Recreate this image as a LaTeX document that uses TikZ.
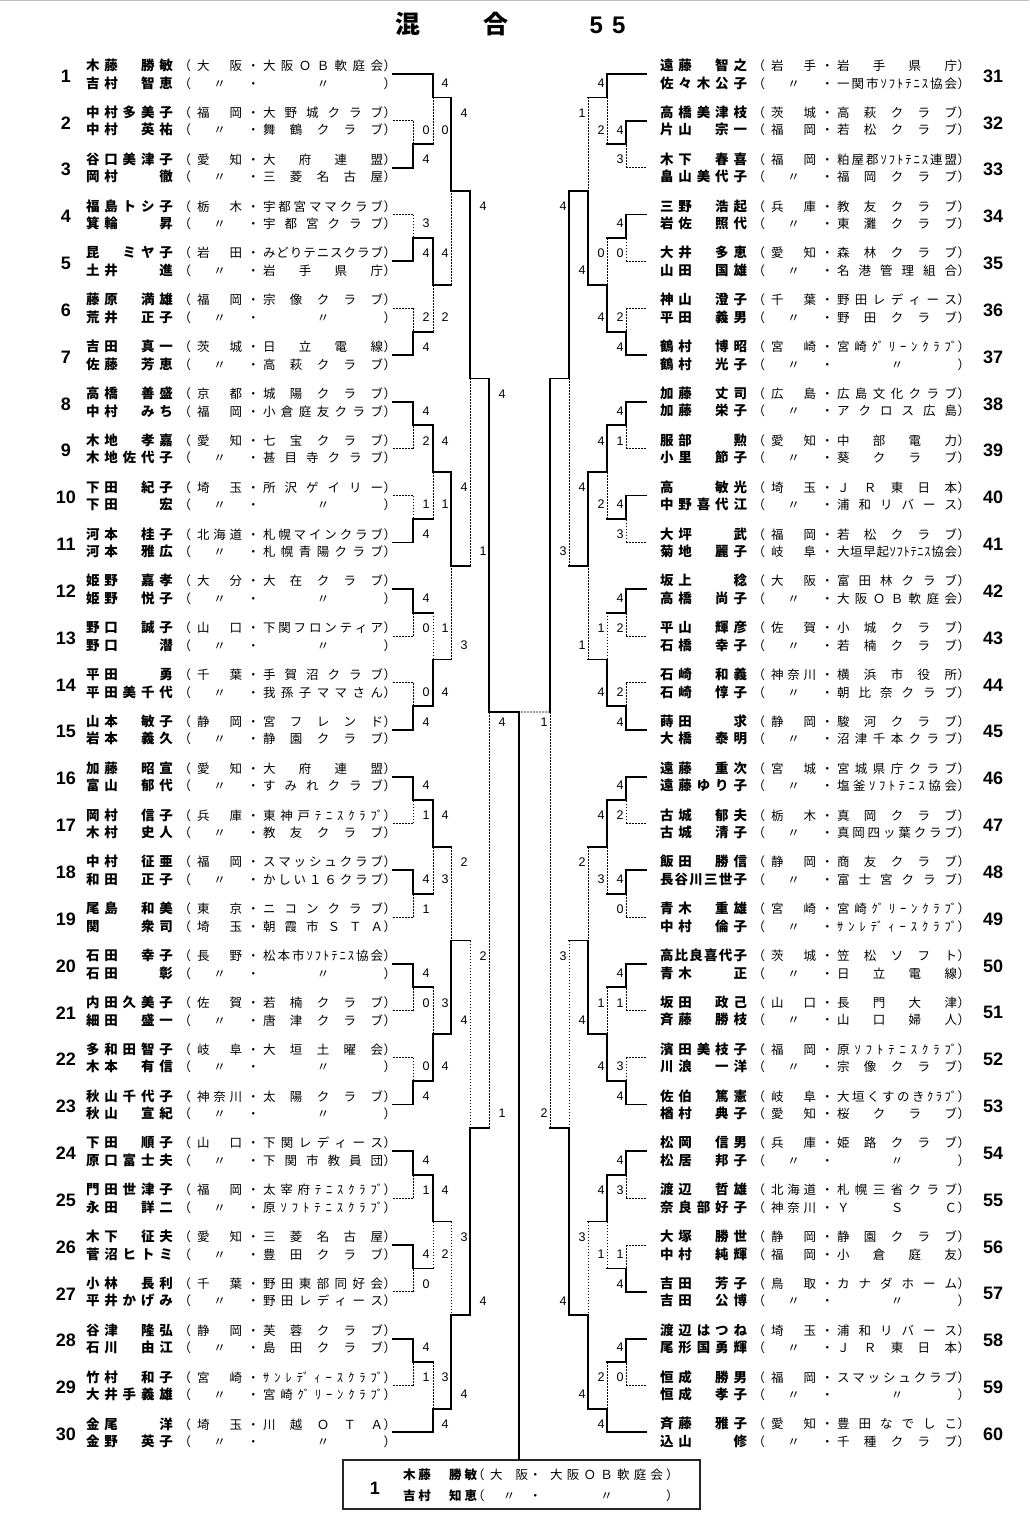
\documentclass[tikz,border=0pt]{standalone}
\usepackage{fontspec}
\usepackage{graphicx}
\setmainfont{Liberation Sans}
\newfontfamily\jp{Noto Sans CJK JP}
\newcommand{\toprow}{74}
\newcommand{\rowgap}{46.84}
\newcommand{\offa}{(-8)}
\newcommand{\offb}{9}
\newcommand{\namefont}{\bfseries\fontsize{13.5}{13.5}\selectfont}
\newsavebox{\fldbox}
\def\spreadtok#1#2\endspread{#1\ifx\relax#2\else\hfil\spreadtok#2\endspread\fi}
\def\spreadstart#1#2\endspread{\ifx\relax#2\hfil#1\hfil\else#1\hfil\spreadtok#2\endspread\fi}
\newcommand{\fld}[2]{%
  \sbox{\fldbox}{#2}%
  \ifdim\wd\fldbox>#1\relax
    \resizebox{#1}{\height}{\usebox{\fldbox}}%
  \else
    \hbox to #1{\spreadstart#2\relax\endspread}%
  \fi}
\newcommand{\prow}[3]{\rlap{{\namefont\fld{87pt}{#1}}}\kern92.5pt\rlap{（}\kern18.5pt\rlap{\fld{45pt}{#2}}\kern50pt\rlap{・}\kern16pt\rlap{\fld{120pt}{#3}}\kern120.5pt）}
\newcommand{\crow}[3]{\rlap{{\bfseries\fontsize{12.5}{12.5}\selectfont\fld{74pt}{#1}}}\kern69pt\rlap{（}\kern18pt\rlap{\fld{38pt}{#2}}\kern39pt\rlap{・}\kern21pt\rlap{\fld{113pt}{#3}}\kern116pt）}
\tikzset{
  win/.style={line width=1.8pt, line cap=rect},
  lose/.style={line width=0.9pt, dash pattern=on 1.8pt off 1.2pt},
  entry/.style={anchor=west, inner sep=0pt, outer sep=0pt, font=\jp\fontsize{12.5}{12.5}\selectfont},
  seed/.style={inner sep=0pt, font=\bfseries\fontsize{18}{18}\selectfont},
  score/.style={inner sep=0pt, font=\fontsize{12.5}{12.5}\selectfont},
  ttlj/.style={inner sep=0pt, font=\jp\bfseries\fontsize{25}{25}\selectfont},
  ttld/.style={inner sep=0pt, font=\bfseries\fontsize{24}{24}\selectfont}
}
\newcommand{\lpl}[7]{%
  \pgfmathsetmacro{\pyy}{\toprow+\rowgap*(#1-1)}
  \node[seed] (n#1) at (66,{\pyy+2}) {#1};
  \node[entry] (t#1a) at (86,{\pyy-8.5}) {\prow{#2}{#3}{#4}};
  \node[entry] (t#1b) at (86,{\pyy+9}) {\prow{#5}{#6}{#7}};
  \coordinate (L#1) at (393,\pyy);
}
\newcommand{\rpl}[7]{%
  \pgfmathsetmacro{\pyy}{\toprow+\rowgap*(#1-31)}
  \node[seed] (n#1) at (993,{\pyy+2}) {#1};
  \node[entry] (t#1a) at (660,{\pyy-8.5}) {\prow{#2}{#3}{#4}};
  \node[entry] (t#1b) at (660,{\pyy+9}) {\prow{#5}{#6}{#7}};
  \coordinate (R#1) at (646,\pyy);
}
\newcommand{\bout}[9]{%
  \coordinate (#1) at (#2,{\toprow+\rowgap*(#3-1)});
  \draw[#5] (#4) -- (#4 -| #1);
  \draw[#6] (#4 -| #1) -- (#1);
  \draw[#8] (#7) -- (#7 -| #1);
  \draw[#9] (#7 -| #1) -- (#1);
}
\newcommand{\gs}[4]{\node[score] (g#1x#2#3) at (#1,{\toprow+\rowgap*mod(#2-1,30)+\csname off#3\endcsname}) {#4};}

\begin{document}
\begin{tikzpicture}[x=1pt,y=-1pt]
        \fill[white] (0,0) rectangle (1029,1537);
        \useasboundingbox (0,0) rectangle (1029,1537);
        \draw[black!25, line width=1pt] (0,0.5) -- (1029,0.5);

        \node[ttlj] (ti1) at (408,24) {混};
        \node[ttlj] (ti2) at (496,24) {合};
        \node[ttld] (ti3) at (607.5,25) {5\kern9pt5};

        \lpl{1}{木藤　勝敏}{大阪}{大阪ＯＢ軟庭会}{吉村　智恵}{〃}{〃}
        \lpl{2}{中村多美子}{福岡}{大野城クラブ}{中村　英祐}{〃}{舞鶴クラブ}
        \lpl{3}{谷口美津子}{愛知}{大府連盟}{岡村　　徹}{〃}{三菱名古屋}
        \lpl{4}{福島トシ子}{栃木}{宇都宮ママクラブ}{箕輪　　昇}{〃}{宇都宮クラブ}
        \lpl{5}{昆　ミヤ子}{岩田}{みどりテニスクラブ}{土井　　進}{〃}{岩手県庁}
        \lpl{6}{藤原　満雄}{福岡}{宗像クラブ}{荒井　正子}{〃}{〃}
        \lpl{7}{吉田　真一}{茨城}{日立電線}{佐藤　芳恵}{〃}{高萩クラブ}
        \lpl{8}{高橋　善盛}{京都}{城陽クラブ}{中村　みち}{福岡}{小倉庭友クラブ}
        \lpl{9}{木地　孝嘉}{愛知}{七宝クラブ}{木地佐代子}{〃}{甚目寺クラブ}
        \lpl{10}{下田　紀子}{埼玉}{所沢ゲイリー}{下田　　宏}{〃}{〃}
        \lpl{11}{河本　桂子}{北海道}{札幌マインクラブ}{河本　雅広}{〃}{札幌青陽クラブ}
        \lpl{12}{姫野　嘉孝}{大分}{大在クラブ}{姫野　悦子}{〃}{〃}
        \lpl{13}{野口　誠子}{山口}{下関フロンティア}{野口　　潜}{〃}{〃}
        \lpl{14}{平田　　勇}{千葉}{手賀沼クラブ}{平田美千代}{〃}{我孫子ママさん}
        \lpl{15}{山本　敏子}{静岡}{宮フレンド}{岩本　義久}{〃}{静園クラブ}
        \lpl{16}{加藤　昭宣}{愛知}{大府連盟}{富山　郁代}{〃}{すみれクラブ}
        \lpl{17}{岡村　信子}{兵庫}{東神戸ﾃﾆｽｸﾗ{ﾌﾞ}}{木村　史人}{〃}{教友クラブ}
        \lpl{18}{中村　征亜}{福岡}{スマッシュクラブ}{和田　正子}{〃}{かしい１６クラブ}
        \lpl{19}{尾島　和美}{東京}{ニコンクラブ}{関　　衆司}{埼玉}{朝霞市ＳＴＡ}
        \lpl{20}{石田　幸子}{長野}{松本市ｿﾌﾄﾃﾆｽ協会}{石田　　彰}{〃}{〃}
        \lpl{21}{内田久美子}{佐賀}{若楠クラブ}{細田　盛一}{〃}{唐津クラブ}
        \lpl{22}{多和田智子}{岐阜}{大垣土曜会}{木本　有信}{〃}{〃}
        \lpl{23}{秋山千代子}{神奈川}{太陽クラブ}{秋山　宣紀}{〃}{〃}
        \lpl{24}{下田　順子}{山口}{下関レディース}{原口富士夫}{〃}{下関市教員団}
        \lpl{25}{門田世津子}{福岡}{太宰府ﾃﾆｽｸﾗ{ﾌﾞ}}{永田　詳二}{〃}{原ｿﾌﾄﾃﾆｽｸﾗ{ﾌﾞ}}
        \lpl{26}{木下　征夫}{愛知}{三菱名古屋}{菅沼ヒトミ}{〃}{豊田クラブ}
        \lpl{27}{小林　長利}{千葉}{野田東部同好会}{平井かげみ}{〃}{野田レディース}
        \lpl{28}{谷津　隆弘}{静岡}{芙蓉クラブ}{石川　由江}{〃}{島田クラブ}
        \lpl{29}{竹村　和子}{宮崎}{ｻﾝﾚ{ﾃﾞ}ｨｰｽｸﾗ{ﾌﾞ}}{大井手義雄}{〃}{宮崎{ｸﾞ}ﾘｰﾝｸﾗ{ﾌﾞ}}
        \lpl{30}{金尾　　洋}{埼玉}{川越ＯＴＡ}{金野　英子}{〃}{〃}

        \rpl{31}{遠藤　智之}{岩手}{岩手県庁}{佐々木公子}{〃}{一関市ｿﾌﾄﾃﾆｽ協会}
        \rpl{32}{高橋美津枝}{茨城}{高萩クラブ}{片山　宗一}{福岡}{若松クラブ}
        \rpl{33}{木下　春喜}{福岡}{粕屋郡ｿﾌﾄﾃﾆｽ連盟}{畠山美代子}{〃}{福岡クラブ}
        \rpl{34}{三野　浩起}{兵庫}{教友クラブ}{岩佐　照代}{〃}{東灘クラブ}
        \rpl{35}{大井　多恵}{愛知}{森林クラブ}{山田　国雄}{〃}{名港管理組合}
        \rpl{36}{神山　澄子}{千葉}{野田レディース}{平田　義男}{〃}{野田クラブ}
        \rpl{37}{鶴村　博昭}{宮崎}{宮崎{ｸﾞ}ﾘｰﾝｸﾗ{ﾌﾞ}}{鶴村　光子}{〃}{〃}
        \rpl{38}{加藤　丈司}{広島}{広島文化クラブ}{加藤　栄子}{〃}{アクロス広島}
        \rpl{39}{服部　　勲}{愛知}{中部電力}{小里　節子}{〃}{葵クラブ}
        \rpl{40}{高　　敏光}{埼玉}{ＪＲ東日本}{中野喜代江}{〃}{浦和リバース}
        \rpl{41}{大坪　　武}{福岡}{若松クラブ}{菊地　麗子}{岐阜}{大垣早起ｿﾌﾄﾃﾆｽ協会}
        \rpl{42}{坂上　　稔}{大阪}{富田林クラブ}{高橋　尚子}{〃}{大阪ＯＢ軟庭会}
        \rpl{43}{平山　輝彦}{佐賀}{小城クラブ}{石橋　幸子}{〃}{若楠クラブ}
        \rpl{44}{石崎　和義}{神奈川}{横浜市役所}{石崎　惇子}{〃}{朝比奈クラブ}
        \rpl{45}{蒔田　　求}{静岡}{駿河クラブ}{大橋　泰明}{〃}{沼津千本クラブ}
        \rpl{46}{遠藤　重次}{宮城}{宮城県庁クラブ}{遠藤ゆり子}{〃}{塩釜ｿﾌﾄﾃﾆｽ協会}
        \rpl{47}{古城　郁夫}{栃木}{真岡クラブ}{古城　清子}{〃}{真岡四ッ葉クラブ}
        \rpl{48}{飯田　勝信}{静岡}{商友クラブ}{長谷川三世子}{〃}{富士宮クラブ}
        \rpl{49}{青木　重雄}{宮崎}{宮崎{ｸﾞ}ﾘｰﾝｸﾗ{ﾌﾞ}}{中村　倫子}{〃}{ｻﾝﾚ{ﾃﾞ}ｨｰｽｸﾗ{ﾌﾞ}}
        \rpl{50}{高比良喜代子}{茨城}{笠松ソフト}{青木　　正}{〃}{日立電線}
        \rpl{51}{坂田　政己}{山口}{長門大津}{斉藤　勝枝}{〃}{山口婦人}
        \rpl{52}{濱田美枝子}{福岡}{原ｿﾌﾄﾃﾆｽｸﾗ{ﾌﾞ}}{川浪　一洋}{〃}{宗像クラブ}
        \rpl{53}{佐伯　篤憲}{岐阜}{大垣くすのきｸﾗ{ﾌﾞ}}{楢村　典子}{愛知}{桜クラブ}
        \rpl{54}{松岡　信男}{兵庫}{姫路クラブ}{松居　邦子}{〃}{〃}
        \rpl{55}{渡辺　哲雄}{北海道}{札幌三省クラブ}{奈良部好子}{神奈川}{ＹＳＣ}
        \rpl{56}{大塚　勝世}{静岡}{静園クラブ}{中村　純輝}{福岡}{小倉庭友}
        \rpl{57}{吉田　芳子}{鳥取}{カナダホーム}{吉田　公博}{〃}{〃}
        \rpl{58}{渡辺はつね}{埼玉}{浦和リバース}{尾形国勇輝}{〃}{ＪＲ東日本}
        \rpl{59}{恒成　勝男}{福岡}{スマッシュクラブ}{恒成　孝子}{〃}{〃}
        \rpl{60}{斉藤　雅子}{愛知}{豊田なでしこ}{込山　　修}{〃}{千種クラブ}

        \bout{a2}{413}{2.5}{L2}{lose}{lose}{L3}{win}{win}
        \bout{a4}{413}{4.5}{L4}{lose}{lose}{L5}{win}{win}
        \bout{a6}{413}{6.5}{L6}{lose}{lose}{L7}{win}{win}
        \bout{a8}{413}{8.5}{L8}{win}{win}{L9}{lose}{lose}
        \bout{a10}{413}{10.5}{L10}{lose}{lose}{L11}{win}{win}
        \bout{a12}{413}{12.5}{L12}{win}{win}{L13}{lose}{lose}
        \bout{a14}{413}{14.5}{L14}{lose}{lose}{L15}{win}{win}
        \bout{a16}{413}{16.5}{L16}{win}{win}{L17}{lose}{lose}
        \bout{a18}{413}{18.5}{L18}{win}{win}{L19}{lose}{lose}
        \bout{a20}{413}{20.5}{L20}{win}{win}{L21}{lose}{lose}
        \bout{a22}{413}{22.5}{L22}{lose}{lose}{L23}{win}{win}
        \bout{a24}{413}{24.5}{L24}{win}{win}{L25}{lose}{lose}
        \bout{a26}{413}{26.5}{L26}{win}{win}{L27}{lose}{lose}
        \bout{a28}{413}{28.5}{L28}{win}{win}{L29}{lose}{lose}

        \bout{b1}{433}{1.5}{L1}{win}{win}{a2}{win}{lose}
        \bout{b4}{433}{5.5}{a4}{win}{win}{a6}{win}{lose}
        \bout{b8}{433}{9.5}{a8}{win}{win}{a10}{win}{lose}
        \bout{b12}{433}{13.5}{a12}{win}{lose}{a14}{win}{win}
        \bout{b16}{433}{17.5}{a16}{win}{win}{a18}{win}{lose}
        \bout{b20}{433}{21.5}{a20}{win}{lose}{a22}{win}{win}
        \bout{b24}{433}{25.5}{a24}{win}{win}{a26}{win}{lose}
        \bout{b28}{433}{29.5}{a28}{win}{lose}{L30}{win}{win}

        \bout{c1}{451}{3.5}{b1}{win}{win}{b4}{win}{lose}
        \bout{c8}{451}{11.5}{b8}{win}{win}{b12}{win}{lose}
        \bout{c16}{451}{19.5}{b16}{win}{lose}{b20}{win}{win}
        \bout{c24}{451}{27.5}{b24}{win}{lose}{b28}{win}{win}

        \bout{d1}{470}{7.5}{c1}{win}{win}{c8}{win}{lose}
        \bout{d16}{470}{23.5}{c16}{win}{lose}{c24}{win}{win}

        \bout{eL}{489}{14.621}{d1}{win}{win}{d16}{win}{lose}

        \bout{p32}{626}{2.5}{R32}{win}{win}{R33}{lose}{lose}
        \bout{p34}{626}{4.5}{R34}{win}{win}{R35}{lose}{lose}
        \bout{p36}{626}{6.5}{R36}{lose}{lose}{R37}{win}{win}
        \bout{p38}{626}{8.5}{R38}{win}{win}{R39}{lose}{lose}
        \bout{p40}{626}{10.5}{R40}{win}{win}{R41}{lose}{lose}
        \bout{p42}{626}{12.5}{R42}{win}{win}{R43}{lose}{lose}
        \bout{p44}{626}{14.5}{R44}{lose}{lose}{R45}{win}{win}
        \bout{p46}{626}{16.5}{R46}{win}{win}{R47}{lose}{lose}
        \bout{p48}{626}{18.5}{R48}{win}{win}{R49}{lose}{lose}
        \bout{p50}{626}{20.5}{R50}{win}{win}{R51}{lose}{lose}
        \bout{p52}{626}{22.5}{R52}{lose}{lose}{R53}{win}{win}
        \bout{p54}{626}{24.5}{R54}{win}{win}{R55}{lose}{lose}
        \bout{p56}{626}{26.5}{R56}{lose}{lose}{R57}{win}{win}
        \bout{p58}{626}{28.5}{R58}{win}{win}{R59}{lose}{lose}

        \bout{q31}{607}{1.5}{R31}{win}{win}{p32}{win}{lose}
        \bout{q34}{607}{5.5}{p34}{win}{lose}{p36}{win}{win}
        \bout{q38}{607}{9.5}{p38}{win}{win}{p40}{win}{lose}
        \bout{q42}{607}{13.5}{p42}{win}{lose}{p44}{win}{win}
        \bout{q46}{607}{17.5}{p46}{win}{win}{p48}{win}{lose}
        \bout{q50}{607}{21.5}{p50}{win}{lose}{p52}{win}{win}
        \bout{q54}{607}{25.5}{p54}{win}{win}{p56}{win}{lose}
        \bout{q58}{607}{29.5}{p58}{win}{lose}{R60}{win}{win}

        \bout{r31}{588}{3.5}{q31}{win}{lose}{q34}{win}{win}
        \bout{r38}{588}{11.5}{q38}{win}{win}{q42}{win}{lose}
        \bout{r46}{588}{19.5}{q46}{win}{lose}{q50}{win}{win}
        \bout{r54}{588}{27.5}{q54}{win}{lose}{q58}{win}{win}

        \bout{s31}{569}{7.5}{r31}{win}{win}{r38}{win}{lose}
        \bout{s46}{569}{23.5}{r46}{win}{lose}{r54}{win}{win}

        \bout{eR}{550}{14.621}{s31}{win}{win}{s46}{win}{lose}

        \node[draw=black!85, line width=1.2pt, minimum width=357pt, minimum height=49pt, inner sep=0pt] (champ) at (521.4,1484.5) {};
        \node[seed] (cn) at (375,1488) {1};
        \node[entry] (ca) at (403,1475) {\crow{木藤　勝敏}{大阪}{大阪ＯＢ軟庭会}};
        \node[entry] (cb) at (403,1496) {\crow{吉村　知恵}{〃}{〃}};

        \coordinate (fin) at (519,712);
        \draw[win] (eL) -- (fin);
        \draw[lose] (eR) -- (fin);
        \draw[win] (fin) -- (fin |- champ.north);

        \gs{426}{2}{b}{0} \gs{426}{3}{a}{4} \gs{426}{4}{b}{3} \gs{426}{5}{a}{4}
        \gs{426}{6}{b}{2} \gs{426}{7}{a}{4} \gs{426}{8}{b}{4} \gs{426}{9}{a}{2}
        \gs{426}{10}{b}{1} \gs{426}{11}{a}{4} \gs{426}{12}{b}{4} \gs{426}{13}{a}{0}
        \gs{426}{14}{b}{0} \gs{426}{15}{a}{4} \gs{426}{16}{b}{4} \gs{426}{17}{a}{1}
        \gs{426}{18}{b}{4} \gs{426}{19}{a}{1} \gs{426}{20}{b}{4} \gs{426}{21}{a}{0}
        \gs{426}{22}{b}{0} \gs{426}{23}{a}{4} \gs{426}{24}{b}{4} \gs{426}{25}{a}{1}
        \gs{426}{26}{b}{4} \gs{426}{27}{a}{0} \gs{426}{28}{b}{4} \gs{426}{29}{a}{1}

        \gs{445}{1}{b}{4} \gs{445}{2}{b}{0} \gs{445}{5}{a}{4} \gs{445}{6}{b}{2}
        \gs{445}{9}{a}{4} \gs{445}{10}{b}{1} \gs{445}{13}{a}{1} \gs{445}{14}{b}{4}
        \gs{445}{17}{a}{4} \gs{445}{18}{b}{3} \gs{445}{21}{a}{3} \gs{445}{22}{b}{4}
        \gs{445}{25}{a}{4} \gs{445}{26}{b}{2} \gs{445}{29}{a}{3} \gs{445}{30}{a}{4}

        \gs{464}{2}{a}{4} \gs{464}{10}{a}{4} \gs{464}{13}{b}{3} \gs{464}{18}{a}{2}
        \gs{464}{21}{b}{4} \gs{464}{26}{a}{3} \gs{464}{29}{b}{4}
        \gs{483}{4}{a}{4} \gs{483}{11}{b}{1} \gs{483}{20}{a}{2} \gs{483}{27}{b}{4}
        \gs{502}{8}{a}{4} \gs{502}{15}{a}{4} \gs{502}{23}{b}{1}

        \gs{620}{32}{b}{4} \gs{620}{33}{a}{3} \gs{620}{34}{b}{4} \gs{620}{35}{a}{0}
        \gs{620}{36}{b}{2} \gs{620}{37}{a}{4} \gs{620}{38}{b}{4} \gs{620}{39}{a}{1}
        \gs{620}{40}{b}{4} \gs{620}{41}{a}{3} \gs{620}{42}{b}{4} \gs{620}{43}{a}{2}
        \gs{620}{44}{b}{2} \gs{620}{45}{a}{4} \gs{620}{46}{b}{4} \gs{620}{47}{a}{2}
        \gs{620}{48}{b}{4} \gs{620}{49}{a}{0} \gs{620}{50}{b}{4} \gs{620}{51}{a}{1}
        \gs{620}{52}{b}{3} \gs{620}{53}{a}{4} \gs{620}{54}{b}{4} \gs{620}{55}{a}{3}
        \gs{620}{56}{b}{1} \gs{620}{57}{a}{4} \gs{620}{58}{b}{4} \gs{620}{59}{a}{0}

        \gs{601}{31}{b}{4} \gs{601}{32}{b}{2} \gs{601}{35}{a}{0} \gs{601}{36}{b}{4}
        \gs{601}{39}{a}{4} \gs{601}{40}{b}{2} \gs{601}{43}{a}{1} \gs{601}{44}{b}{4}
        \gs{601}{47}{a}{4} \gs{601}{48}{b}{3} \gs{601}{51}{a}{1} \gs{601}{52}{b}{4}
        \gs{601}{55}{a}{4} \gs{601}{56}{b}{1} \gs{601}{59}{a}{2} \gs{601}{60}{a}{4}

        \gs{582}{32}{a}{1} \gs{582}{35}{b}{4} \gs{582}{40}{a}{4} \gs{582}{43}{b}{1}
        \gs{582}{48}{a}{2} \gs{582}{51}{b}{4} \gs{582}{56}{a}{3} \gs{582}{59}{b}{4}
        \gs{563}{34}{a}{4} \gs{563}{41}{b}{3} \gs{563}{50}{a}{3} \gs{563}{57}{b}{4}
        \gs{544}{45}{a}{1} \gs{544}{53}{b}{2}
\end{tikzpicture}
\end{document}
